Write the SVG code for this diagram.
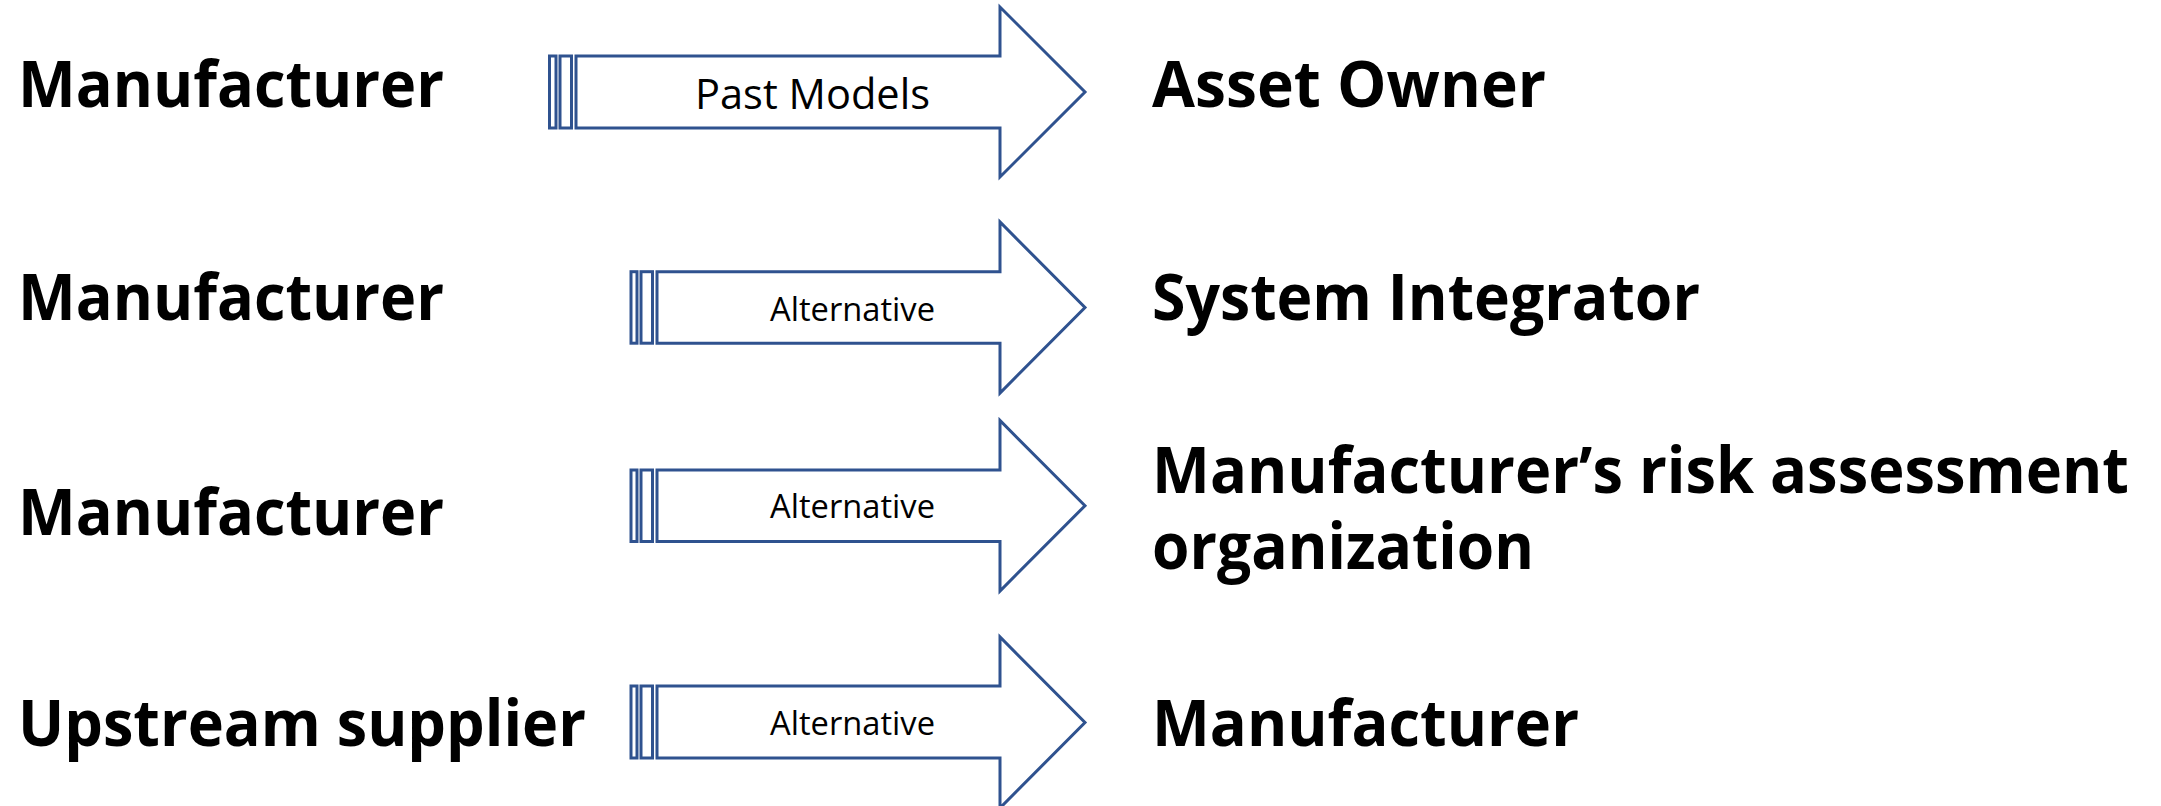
<svg xmlns="http://www.w3.org/2000/svg" width="2161" height="806" viewBox="0 0 2161 806">
  <style>
    .bg { fill: #ffffff; }
    .party { font-family: "Open Sans", "Liberation Sans", sans-serif; font-weight: 700; font-size: 64px; fill: #000000; }
    .arrow { fill: #ffffff; stroke: #2f528f; stroke-width: 3; stroke-linejoin: miter; }
    .flow { font-family: "Open Sans", "Liberation Sans", sans-serif; font-weight: 400; fill: #000000; }
    .big { font-size: 42px; }
    .small { font-size: 32px; }
  </style>
  <rect class="bg" x="0" y="0" width="2161" height="806"/>

  <!-- row 1: Manufacturer -> Asset Owner -->
  <g id="src-manufacturer-1">
    <text class="party" x="18" y="107" textLength="426" lengthAdjust="spacingAndGlyphs">Manufacturer</text>
  </g>
  <g id="dst-asset-owner">
    <text class="party" x="1152" y="107" textLength="394" lengthAdjust="spacingAndGlyphs">Asset Owner</text>
  </g>

  <!-- row 2: Manufacturer -> System Integrator -->
  <g id="src-manufacturer-2">
    <text class="party" x="18" y="320" textLength="426" lengthAdjust="spacingAndGlyphs">Manufacturer</text>
  </g>
  <g id="dst-system-integrator">
    <text class="party" x="1152" y="320" textLength="548" lengthAdjust="spacingAndGlyphs">System Integrator</text>
  </g>

  <!-- row 3: Manufacturer -> risk assessment organization -->
  <g id="src-manufacturer-3">
    <text class="party" x="18" y="535" textLength="426" lengthAdjust="spacingAndGlyphs">Manufacturer</text>
  </g>
  <g id="dst-risk-assessment">
    <text class="party" x="1152" y="493" textLength="977" lengthAdjust="spacingAndGlyphs">Manufacturer’s risk assessment</text>
    <text class="party" x="1152" y="569" textLength="382" lengthAdjust="spacingAndGlyphs">organization</text>
  </g>

  <!-- row 4: Upstream supplier -> Manufacturer -->
  <g id="src-upstream-supplier">
    <text class="party" x="18" y="746" textLength="568" lengthAdjust="spacingAndGlyphs">Upstream supplier</text>
  </g>
  <g id="dst-manufacturer">
    <text class="party" x="1152" y="746" textLength="427" lengthAdjust="spacingAndGlyphs">Manufacturer</text>
  </g>

  <!-- striped block arrows -->
  <g id="connectors">
    <g id="arrow-past-models">
      <rect class="arrow" x="549.5" y="56" width="6.5" height="72"/>
      <rect class="arrow" x="560" y="56" width="11.5" height="72"/>
      <path class="arrow" d="M576 56 L1000 56 L1000 7 L1085 92 L1000 177 L1000 128 L576 128 Z"/>
      <text class="flow big" x="695" y="109" textLength="235" lengthAdjust="spacingAndGlyphs">Past Models</text>
    </g>
    <g id="arrow-alt-1">
      <rect class="arrow" x="631" y="271.7" width="6" height="71.5"/>
      <rect class="arrow" x="641" y="271.7" width="11.5" height="71.5"/>
      <path class="arrow" d="M657 271.7 L1000 271.7 L1000 222 L1085 307.5 L1000 393 L1000 343.2 L657 343.2 Z"/>
      <text class="flow small" x="770" y="321" textLength="165" lengthAdjust="spacingAndGlyphs">Alternative</text>
    </g>
    <g id="arrow-alt-2">
      <rect class="arrow" x="631" y="470" width="6" height="71.5"/>
      <rect class="arrow" x="641" y="470" width="11.5" height="71.5"/>
      <path class="arrow" d="M657 470 L1000 470 L1000 420.5 L1085 505.7 L1000 591 L1000 541.5 L657 541.5 Z"/>
      <text class="flow small" x="770" y="517.5" textLength="165" lengthAdjust="spacingAndGlyphs">Alternative</text>
    </g>
    <g id="arrow-alt-3">
      <rect class="arrow" x="631" y="686" width="6" height="72"/>
      <rect class="arrow" x="641" y="686" width="11.5" height="72"/>
      <path class="arrow" d="M657 686 L1000 686 L1000 637 L1085 722.5 L1000 808 L1000 758 L657 758 Z"/>
      <text class="flow small" x="770" y="734.5" textLength="165" lengthAdjust="spacingAndGlyphs">Alternative</text>
    </g>
  </g>
</svg>
